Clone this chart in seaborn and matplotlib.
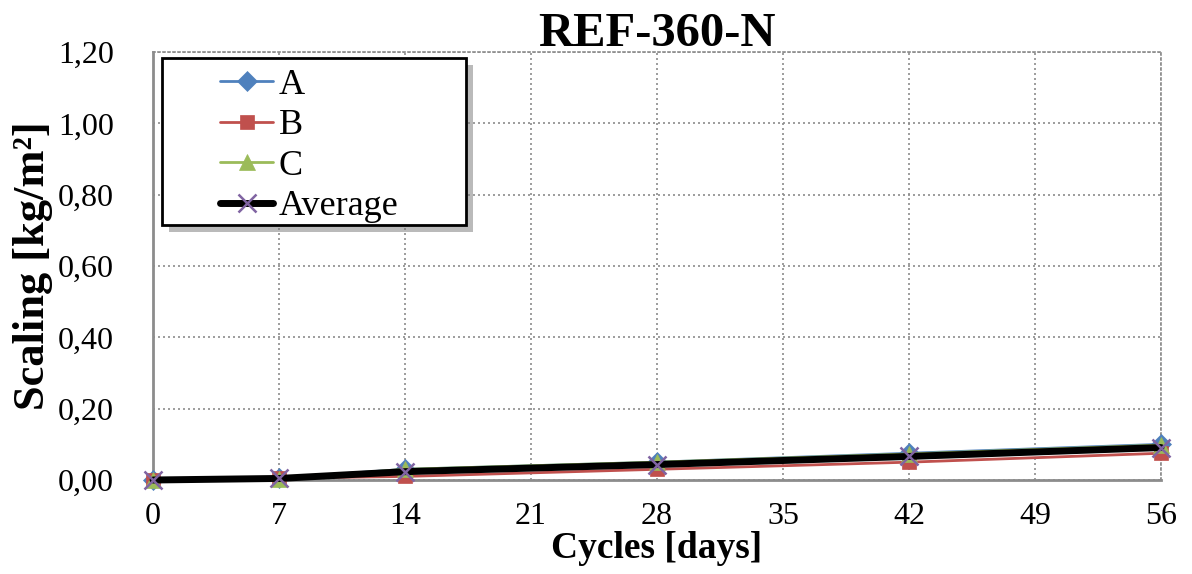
import numpy as np
import pandas as pd
import matplotlib
matplotlib.use("Agg")
import matplotlib.pyplot as plt
from matplotlib.patches import Rectangle
from matplotlib import patheffects
from matplotlib.ticker import MultipleLocator, FuncFormatter
import seaborn as sns

# Scaling measurements per specimen
cycles = [0, 7, 14, 28, 42, 56]
scaling_a = [0.000, 0.005, 0.030, 0.050, 0.075, 0.100]
scaling_b = [0.000, 0.005, 0.010, 0.030, 0.050, 0.075]
scaling_c = [0.000, 0.003, 0.030, 0.050, 0.073, 0.098]
scaling_avg = list(np.mean([scaling_a, scaling_b, scaling_c], axis=0))

series_names = ["A", "B", "C", "Average"]
series_values = [scaling_a, scaling_b, scaling_c, scaling_avg]
colors = ["#4F81BD", "#C0504D", "#9BBB59", "#000000"]
markers = ["D", "s", "^", "x"]
marker_colors = ["#4F81BD", "#C0504D", "#9BBB59", "#8064A2"]
line_widths = [2, 2, 2, 5]
marker_sizes = [10, 10, 11, 13]

df = pd.DataFrame({
    "cycles": np.tile(cycles, len(series_names)),
    "scaling": np.concatenate(series_values),
    "series": np.repeat(series_names, len(cycles)),
})

sns.set_style("white")
plt.rcParams["font.family"] = ["Liberation Serif", "DejaVu Serif"]
plt.rcParams["text.color"] = "black"
plt.rcParams["axes.labelcolor"] = "black"
plt.rcParams["xtick.color"] = "black"
plt.rcParams["ytick.color"] = "black"

fig = plt.figure(figsize=(11.92, 5.74), dpi=100)
ax = fig.add_axes([153 / 1192, 1 - 480 / 574, (1161 - 153) / 1192, (480 - 52) / 574])

for name, c, m, mc, lw, ms in zip(series_names, colors, markers, marker_colors, line_widths, marker_sizes):
    sub = df[df["series"] == name]
    sns.lineplot(data=sub, x="cycles", y="scaling", ax=ax, color=c, linewidth=lw,
                 marker=m, markersize=ms, markerfacecolor=mc, markeredgecolor=mc,
                 markeredgewidth=1.8 if m == "x" else 0.5, label=name, zorder=3,
                 clip_on=False)

ax.set_xlim(0, 56)
ax.set_ylim(0, 1.2)
ax.xaxis.set_major_locator(MultipleLocator(7))
ax.xaxis.set_minor_locator(MultipleLocator(3.5))
ax.yaxis.set_major_locator(MultipleLocator(0.2))
ax.yaxis.set_minor_locator(MultipleLocator(0.04))
ax.yaxis.set_major_formatter(FuncFormatter(lambda v, p: f"{v:.2f}".replace(".", ",")))

ax.grid(True, which="major", color="#8C8C8C", linestyle=(0, (1.2, 1.8)), linewidth=1.2)
grey = "#8C8C8C"
ax.tick_params(axis="x", which="major", direction="out", length=8, width=1.5, color=grey,
               labelsize=23, pad=8, labelcolor="black")
ax.tick_params(axis="x", which="minor", direction="out", length=6, width=1.5, color=grey)
ax.tick_params(axis="y", which="major", direction="in", length=8, width=1.5, color=grey,
               labelsize=23, pad=28, labelcolor="black")
ax.tick_params(axis="y", which="minor", direction="in", length=6, width=1.5, color=grey)

for side in ["left", "bottom"]:
    ax.spines[side].set_color(grey)
    ax.spines[side].set_linewidth(2)
for side in ["top", "right"]:
    ax.spines[side].set_color(grey)
    ax.spines[side].set_linestyle((0, (1.2, 1.8)))
    ax.spines[side].set_linewidth(1.2)

ax.set_title("REF-360-N", fontsize=35, fontweight="bold", pad=4, color="black")
ax.set_xlabel("Cycles [days]", fontsize=27, fontweight="bold", labelpad=0)
ax.set_ylabel("Scaling [kg/m²]", fontsize=32, fontweight="bold", labelpad=4)

# legend frame with drop shadow
frame = Rectangle((0.0089, 0.596), 0.3016, 0.39, transform=ax.transAxes,
                  facecolor="white", edgecolor="black", linewidth=2, zorder=5)
frame.set_path_effects([patheffects.SimplePatchShadow(offset=(5, -5), shadow_rgbFace="#777777", alpha=0.5),
                        patheffects.Normal()])
ax.add_patch(frame)

leg = ax.legend(loc="upper left", bbox_to_anchor=(0.0665, 0.961), fontsize=26, frameon=False,
                handlelength=1.47, handletextpad=0.15, labelspacing=0.2, borderpad=0,
                borderaxespad=0)
leg.set_zorder(6)

fig.savefig("out.png", dpi=100)
